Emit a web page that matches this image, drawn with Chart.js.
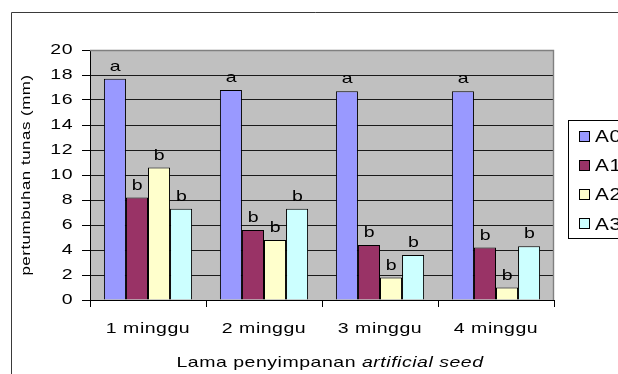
<!DOCTYPE html>
<html>
<head>
<meta charset="utf-8">
<script src="https://cdn.jsdelivr.net/npm/chart.js@4.4.1/dist/chart.umd.min.js"></script>
<style>
  html, body { margin: 0; padding: 0; background: #ffffff; }
  #wrap { width: 618px; height: 374px; }
</style>
</head>
<body>
<div id="wrap"><canvas id="chart" width="618" height="374"></canvas></div>
<script>
// Storage time categories
const categories = ['1 minggu', '2 minggu', '3 minggu', '4 minggu'];
const seriesNames = ['A0', 'A1', 'A2', 'A3'];

// Shoot growth (mm) per treatment
const valuesA0 = [17.7, 16.8, 16.7, 16.7];
const valuesA1 = [8.2, 5.6, 4.4, 4.2];
const valuesA2 = [10.6, 4.8, 1.8, 1.0];
const valuesA3 = [7.3, 7.3, 3.6, 4.3];

// Significance letters shown above each bar
const lettersA0 = ['a', 'a', 'a', 'a'];
const lettersA1 = ['b', 'b', 'b', 'b'];
const lettersA2 = ['b', 'b', 'b', 'b'];
const lettersA3 = ['b', 'b', 'b', 'b'];

const yTickValues = [0, 2, 4, 6, 8, 10, 12, 14, 16, 18, 20];

const seriesColors = ['#9999FF', '#993366', '#FFFFCC', '#CCFFFF'];
const seriesValues = [valuesA0, valuesA1, valuesA2, valuesA3];
const seriesLetters = [lettersA0, lettersA1, lettersA2, lettersA3];

const FONT = '"Liberation Sans", Arial, sans-serif';
const SPACING = '0.4px';
const STRETCH = 1.3;

// Text on this chart is drawn horizontally widened (along its own baseline)
const baseFillText = CanvasRenderingContext2D.prototype.fillText;
CanvasRenderingContext2D.prototype.fillText = function (text, x, y) {
  this.save();
  this.translate(x, y);
  this.scale(STRETCH, 1);
  baseFillText.call(this, text, 0, 0);
  this.restore();
};

const spacingPlugin = {
  id: 'spacing',
  beforeDraw(chart) { chart.ctx.letterSpacing = SPACING; }
};

// Outer frame, plot background and plot border
const framePlugin = {
  id: 'frame',
  beforeDraw(chart) {
    const ctx = chart.ctx;
    const a = chart.chartArea;
    ctx.save();
    ctx.fillStyle = '#ffffff';
    ctx.fillRect(0, 0, chart.width, chart.height);
    ctx.strokeStyle = '#3a3a3a';
    ctx.lineWidth = 1;
    ctx.beginPath();
    ctx.moveTo(11.5, chart.height + 2);
    ctx.lineTo(11.5, 12.5);
    ctx.lineTo(chart.width + 2, 12.5);
    ctx.stroke();
    ctx.fillStyle = '#c0c0c0';
    ctx.fillRect(a.left, a.top, a.right - a.left, a.bottom - a.top);
    ctx.restore();
  },
  beforeDatasetsDraw(chart) {
    const ctx = chart.ctx;
    const a = chart.chartArea;
    ctx.save();
    ctx.strokeStyle = '#808080';
    ctx.lineWidth = 1.4;
    ctx.beginPath();
    ctx.moveTo(a.left, a.top + 0.5);
    ctx.lineTo(a.right - 0.5, a.top + 0.5);
    ctx.lineTo(a.right - 0.5, a.bottom);
    ctx.stroke();
    ctx.restore();
  }
};

// Letters above bars, legend box and x-axis title
const annotatePlugin = {
  id: 'annotate',
  afterDatasetsDraw(chart) {
    const ctx = chart.ctx;
    ctx.save();
    ctx.letterSpacing = SPACING;
    ctx.font = '15px ' + FONT;
    ctx.fillStyle = '#000000';
    ctx.textAlign = 'center';
    ctx.textBaseline = 'alphabetic';
    chart.data.datasets.forEach((ds, i) => {
      const meta = chart.getDatasetMeta(i);
      meta.data.forEach((bar, j) => {
        ctx.fillText(seriesLetters[i][j], bar.x + 0.5, bar.y - 8);
      });
    });
    ctx.restore();
  },
  afterDraw(chart) {
    const ctx = chart.ctx;
    ctx.save();
    ctx.letterSpacing = SPACING;
    // legend
    const lx = 568.5, ly = 120.5, lh = 118;
    ctx.fillStyle = '#ffffff';
    ctx.fillRect(lx, ly, chart.width - lx + 5, lh);
    ctx.strokeStyle = '#000000';
    ctx.lineWidth = 1;
    ctx.strokeRect(lx, ly, chart.width - lx + 5, lh);
    ctx.font = '16px ' + FONT;
    ctx.textAlign = 'left';
    ctx.textBaseline = 'middle';
    chart.data.datasets.forEach((ds, i) => {
      const cy = 136.5 + i * 29.2;
      ctx.fillStyle = ds.backgroundColor;
      ctx.fillRect(579.5, Math.round(cy) - 5.5, 10, 10);
      ctx.strokeStyle = '#000000';
      ctx.strokeRect(579.5, Math.round(cy) - 5.5, 10, 10);
      ctx.fillStyle = '#000000';
      ctx.fillText(ds.label, 595, cy + 1);
    });
    // x-axis title with italic part
    const partA = 'Lama penyimpanan ';
    const partB = 'artificial seed';
    ctx.font = '15px ' + FONT;
    const wA = ctx.measureText(partA).width * STRETCH;
    ctx.font = 'italic 15px ' + FONT;
    const wB = ctx.measureText(partB).width * STRETCH;
    const start = 330 - (wA + wB) / 2;
    ctx.fillStyle = '#000000';
    ctx.textBaseline = 'alphabetic';
    ctx.font = '15px ' + FONT;
    ctx.fillText(partA, start, 367);
    ctx.font = 'italic 15px ' + FONT;
    ctx.fillText(partB, start + wA, 367);
    ctx.restore();
  }
};

const chart = new Chart(document.getElementById('chart'), {
  type: 'bar',
  data: {
    labels: categories,
    datasets: seriesNames.map((name, i) => ({
      label: name,
      data: seriesValues[i],
      backgroundColor: seriesColors[i],
      borderColor: '#000000',
      borderWidth: 1,
      barPercentage: 1.0,
      categoryPercentage: 0.76
    }))
  },
  options: {
    responsive: false,
    animation: false,
    devicePixelRatio: 1,
    layout: { padding: { left: 0, top: 50, right: 64, bottom: 0 } },
    plugins: {
      legend: { display: false },
      tooltip: { enabled: false },
      title: { display: false }
    },
    scales: {
      x: {
        offset: true,
        grid: {
          offset: true,
          drawOnChartArea: false,
          drawTicks: true,
          tickLength: 7,
          tickColor: '#000000'
        },
        border: { display: true, color: '#000000', width: 1 },
        ticks: {
          color: '#000000',
          font: { family: FONT, size: 15 },
          padding: 13,
          maxRotation: 0,
          autoSkip: false
        },
        afterFit(scale) { scale.height = 74; }
      },
      y: {
        min: 0,
        max: 20,
        afterBuildTicks(scale) { scale.ticks = yTickValues.map(v => ({ value: v })); },
        grid: {
          color: (c) => (c.tick && (c.tick.value === 0 || c.tick.value === 20)) ? 'rgba(0,0,0,0)' : '#1a1a1a',
          tickColor: '#000000',
          tickLength: 8,
          lineWidth: 1
        },
        border: { display: true, color: '#000000', width: 1 },
        ticks: {
          color: '#000000',
          font: { family: FONT, size: 15 },
          padding: 9
        },
        title: {
          display: true,
          text: 'pertumbuhan tunas (mm)',
          color: '#000000',
          font: { family: FONT, size: 13 },
          padding: { top: 19, bottom: 0 }
        },
        afterFit(scale) { scale.width = 90; }
      }
    }
  },
  plugins: [spacingPlugin, framePlugin, annotatePlugin]
});
</script>
</body>
</html>
